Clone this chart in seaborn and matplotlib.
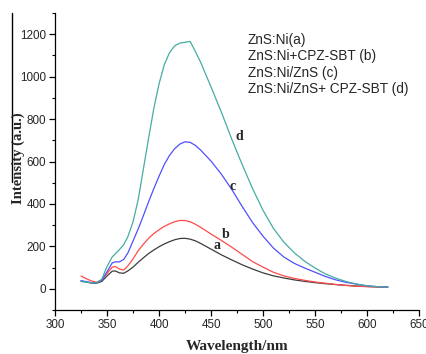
import pandas as pd
import matplotlib
matplotlib.use("Agg")
import matplotlib.pyplot as plt
from matplotlib.lines import Line2D
from matplotlib.ticker import MultipleLocator
import seaborn as sns

# Emission spectra, values
wavelength = [325, 330, 335, 340, 345, 350, 355, 358, 362, 366, 370, 375, 380, 385, 390,
              395, 400, 405, 410, 415, 420, 425, 430, 435, 440, 450, 460, 470, 480, 490,
              500, 510, 520, 530, 540, 550, 560, 570, 580, 590, 600, 610, 620]

znsni_a = [36, 32, 27, 26, 35, 60, 83, 84, 75, 73, 84, 102, 125, 146, 166,
           183, 198, 211, 222, 231, 237, 238, 234, 226, 214, 187, 160, 136, 113, 93,
           75, 61, 51, 42, 35, 29, 24, 20, 16, 13, 11, 9, 8]

znsni_cpz_b = [60, 48, 37, 31, 42, 72, 102, 105, 93, 88, 108, 140, 180, 210, 238,
               260, 278, 294, 306, 316, 322, 322, 316, 304, 290, 258, 228, 196, 162, 128,
               102, 78, 61, 49, 40, 32, 26, 20, 16, 12, 10, 8, 9]

znsni_zns_c = [38, 34, 29, 28, 40, 80, 122, 127, 127, 138, 168, 225, 282, 345, 410,
               472, 530, 585, 628, 660, 682, 693, 690, 676, 654, 602, 540, 468, 388, 312,
               248, 192, 150, 120, 98, 78, 58, 42, 30, 22, 14, 10, 8]

znsni_zns_cpz_d = [34, 32, 28, 28, 45, 105, 150, 165, 185, 208, 245, 315, 420, 565, 710,
                   850, 965, 1055, 1112, 1145, 1158, 1162, 1166, 1118, 1068, 952, 832, 705, 585, 472,
                   370, 285, 220, 170, 130, 98, 70, 50, 34, 22, 14, 10, 8]

sample_names = ["a", "b", "c", "d"]
legend_lines = ["ZnS:Ni(a)", "ZnS:Ni+CPZ-SBT (b)", "ZnS:Ni/ZnS (c)", "ZnS:Ni/ZnS+ CPZ-SBT (d)"]
line_colors = {"a": "#3c3c3c", "b": "#ff4a4a", "c": "#5050ff", "d": "#45ada2"}

# where the curve letters sit (wavelength, intensity)
letter_pos = {"a": (456, 202), "b": (464.5, 258), "c": (471, 482), "d": (477, 718)}

series = [znsni_a, znsni_cpz_b, znsni_zns_c, znsni_zns_cpz_d]
frames = []
for name, values in zip(sample_names, series):
    frames.append(pd.DataFrame({"wavelength": wavelength, "intensity": values, "sample": name}))
df = pd.concat(frames, ignore_index=True)

sns.set_style("ticks")
plt.rcParams["font.family"] = ["Liberation Sans", "DejaVu Sans"]

fig = plt.figure(figsize=(4.27, 3.54), dpi=100)
ax = fig.add_axes([55 / 427, 1 - 310 / 354, 364 / 427, 297 / 354])

sns.lineplot(data=df, x="wavelength", y="intensity", hue="sample", palette=line_colors,
             estimator=None, legend=False, linewidth=0.9, ax=ax)

ax.set_xlim(300, 650)
ax.set_ylim(-100, 1300)
ax.xaxis.set_major_locator(MultipleLocator(50))
ax.xaxis.set_minor_locator(MultipleLocator(25))
ax.yaxis.set_major_locator(MultipleLocator(200))
ax.yaxis.set_minor_locator(MultipleLocator(100))
ax.tick_params(which="major", length=4, width=0.9, pad=2.5, labelsize=8.4, color="black")
ax.tick_params(which="minor", length=2.5, width=0.8, color="black")
for side in ["top", "right"]:
    ax.spines[side].set_visible(False)
for side in ["left", "bottom"]:
    ax.spines[side].set_linewidth(0.9)
    ax.spines[side].set_color("black")

ax.set_xlabel("Wavelength/nm", fontsize=11, fontweight="bold", family="Liberation Serif")
ax.xaxis.set_label_coords(0.5, -0.1)
ax.set_ylabel("")
fig.text(18 / 427, 1 - 158 / 354, "Intensity (a.u.)", rotation=90, ha="center", va="center",
         fontsize=10.5, fontweight="bold", family="Liberation Serif")

# stray mark next to the y label in the original
fig.add_artist(Line2D([12 / 427, 12 / 427], [1 - 13 / 354, 1 - 182 / 354],
                      transform=fig.transFigure, color="black", linewidth=1))

for i, line in enumerate(legend_lines):
    ax.text(0.53, 0.909 - i * 0.055, line, transform=ax.transAxes, ha="left", va="center",
            fontsize=9.8)

for name in sample_names:
    x, y = letter_pos[name]
    ax.text(x, y, name, ha="center", va="center", fontsize=10, fontweight="bold",
            family="Liberation Serif")

fig.savefig("out.png", dpi=100)
